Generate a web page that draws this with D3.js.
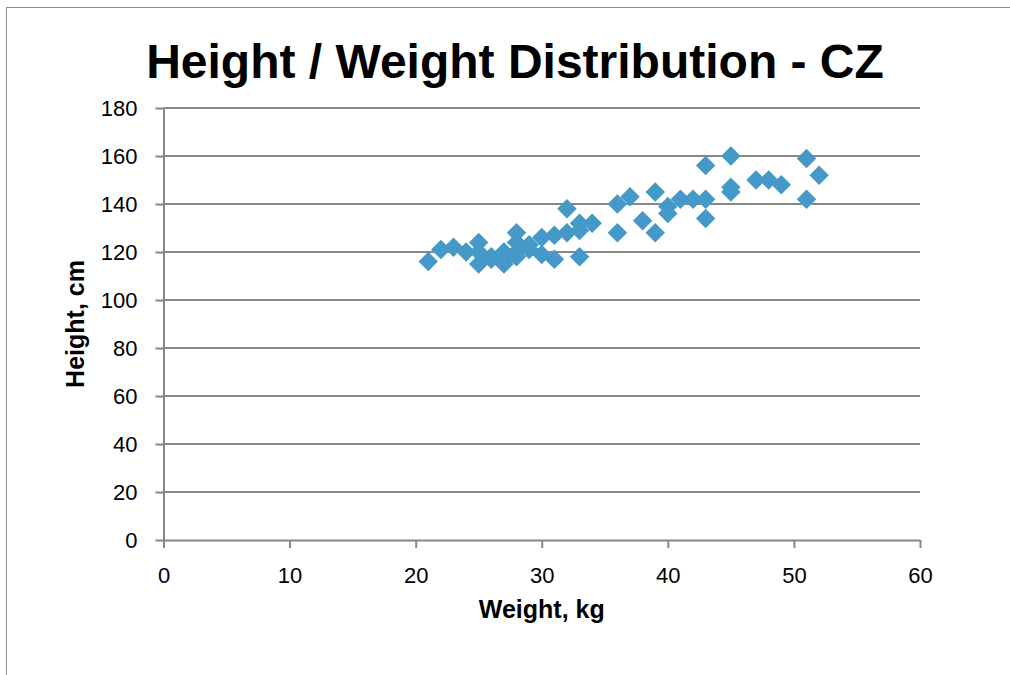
<!DOCTYPE html>
<html>
<head>
<meta charset="utf-8">
<script src="https://cdn.jsdelivr.net/npm/d3@7"></script>
<style>
  body { margin: 0; background: #fff; }
  svg { display: block; font-family: "Liberation Sans", Arial, sans-serif; }
</style>
</head>
<body>
<div id="chart"></div>
<script>
// weight (kg) / height (cm) pairs
var weights = [21, 22, 23, 24, 25, 25, 25, 26, 26, 27, 27, 27, 28, 28, 28, 28, 29, 29, 30, 30,
               31, 31, 32, 32, 33, 33, 33, 34, 36, 36, 37, 38, 39, 39, 40, 40, 41, 42, 43, 43,
               43, 45, 45, 45, 47, 48, 49, 51, 51, 52];
var heights = [116, 121, 122, 120, 124, 120, 115, 118, 117, 120, 117, 115, 128, 124, 120, 118, 123, 121, 126, 119,
               127, 117, 138, 128, 132, 129, 118, 132, 140, 128, 143, 133, 145, 128, 139, 136, 142, 142, 156, 142,
               134, 160, 147, 145, 150, 150, 148, 159, 142, 152];
var xTicks = [0, 10, 20, 30, 40, 50, 60];
var yTicks = [0, 20, 40, 60, 80, 100, 120, 140, 160, 180];

var width = 1010,
    height = 675;
var plot = { left: 163.5, right: 920, top: 108, bottom: 540 };

var svg = d3.select("#chart")
    .append("svg")
    .attr("width", width)
    .attr("height", height);

// chart frame (only top and left edges show)
svg.append("line")
    .attr("x1", 6.5).attr("y1", 7.5).attr("x2", width).attr("y2", 7.5)
    .attr("stroke", "#8c8c8c").attr("stroke-width", 1);
svg.append("line")
    .attr("x1", 6.5).attr("y1", 7.5).attr("x2", 6.5).attr("y2", height)
    .attr("stroke", "#8c8c8c").attr("stroke-width", 1);

var x = d3.scaleLinear().domain([0, 60]).range([plot.left, plot.right]);
var y = d3.scaleLinear().domain([0, 180]).range([plot.bottom, plot.top]);

// horizontal gridlines
svg.append("g").attr("class", "grid")
    .selectAll("line")
    .data(yTicks.filter(function (d) { return d > 0; }))
    .enter().append("line")
    .attr("x1", plot.left)
    .attr("x2", plot.right)
    .attr("y1", function (d) { return y(d); })
    .attr("y2", function (d) { return y(d); })
    .attr("stroke", "#878787")
    .attr("stroke-width", 2);

// axes
var xAxis = svg.append("g")
    .attr("transform", "translate(0," + plot.bottom + ")")
    .call(d3.axisBottom(x).tickValues(xTicks).tickSize(8).tickSizeOuter(0).tickPadding(19));
var yAxis = svg.append("g")
    .attr("transform", "translate(" + plot.left + ",0)")
    .call(d3.axisLeft(y).tickValues(yTicks).tickSize(8).tickSizeOuter(0).tickPadding(18));

[xAxis, yAxis].forEach(function (ax) {
    ax.select(".domain").attr("stroke", "#878787").attr("stroke-width", 2);
    ax.selectAll(".tick line").attr("stroke", "#878787").attr("stroke-width", 2);
    ax.selectAll(".tick text")
        .attr("fill", "#000")
        .attr("font-size", "22px")
        .attr("font-family", "Liberation Sans, Arial, sans-serif");
});

// diamond markers
var diamond = d3.symbol().type(d3.symbolSquare).size(190);
svg.append("g").attr("class", "points")
    .selectAll("path")
    .data(d3.range(weights.length))
    .enter().append("path")
    .attr("d", diamond)
    .attr("transform", function (i) {
        return "translate(" + x(weights[i]) + "," + y(heights[i]) + ") rotate(45)";
    })
    .attr("fill", "#4599c8");

// title and axis titles
svg.append("text")
    .attr("x", 515)
    .attr("y", 78)
    .attr("text-anchor", "middle")
    .attr("font-size", "48px")
    .attr("font-weight", "bold")
    .text("Height / Weight Distribution - CZ");

svg.append("text")
    .attr("x", (plot.left + plot.right) / 2)
    .attr("y", 618)
    .attr("text-anchor", "middle")
    .attr("font-size", "25px")
    .attr("font-weight", "bold")
    .text("Weight, kg");

svg.append("text")
    .attr("transform", "translate(84," + (plot.top + plot.bottom) / 2 + ") rotate(-90)")
    .attr("text-anchor", "middle")
    .attr("font-size", "25px")
    .attr("font-weight", "bold")
    .text("Height, cm");
</script>
</body>
</html>
